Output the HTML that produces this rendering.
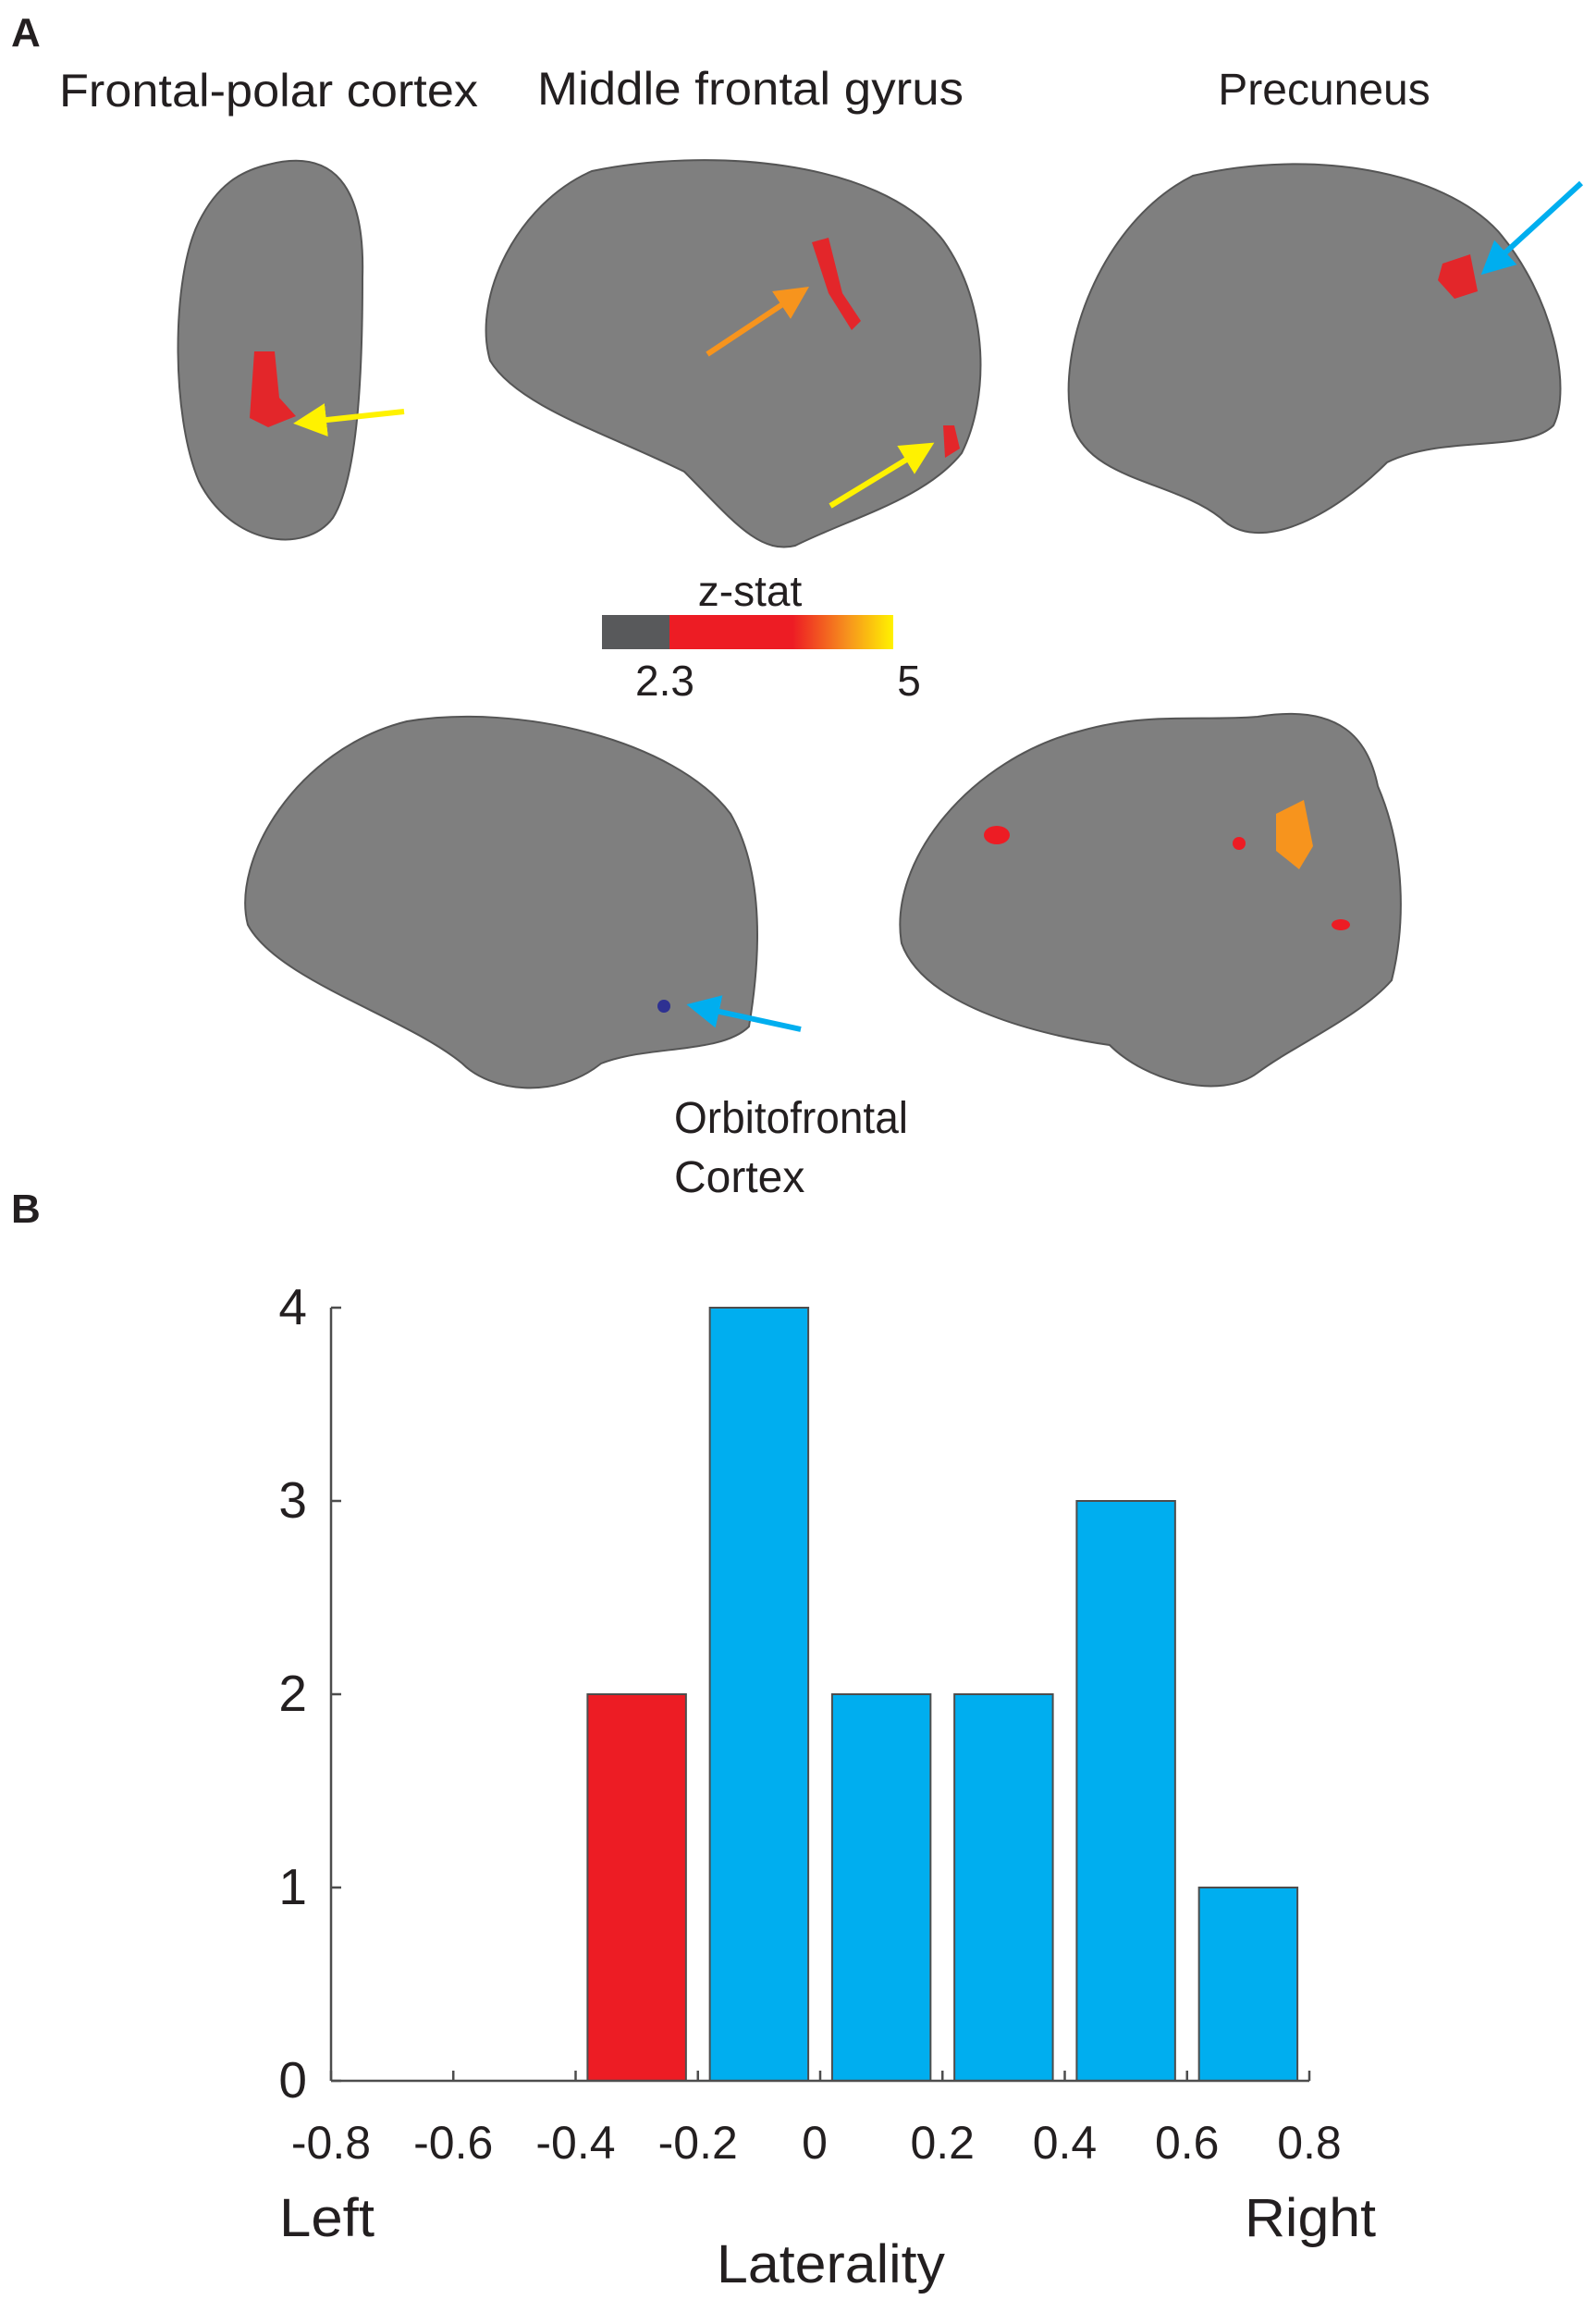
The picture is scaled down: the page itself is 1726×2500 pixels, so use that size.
<!DOCTYPE html>
<html><head><meta charset="utf-8"><style>
html,body{margin:0;padding:0;background:#fff}
svg{display:block}
.t{font-family:"Liberation Sans Narrow","Liberation Sans",sans-serif;fill:#231f20}
.a{font-family:"Liberation Sans",sans-serif;fill:#231f20}
</style></head><body>
<svg id="fig" width="1726" height="2500" viewBox="0 0 1726 2500" xmlns="http://www.w3.org/2000/svg">
<defs>
<linearGradient id="cb" x1="0" x2="1" y1="0" y2="0">
<stop offset="0" stop-color="#ed1c24"/><stop offset="0.55" stop-color="#ed1c24"/><stop offset="0.8" stop-color="#f7941d"/><stop offset="1" stop-color="#fff200"/></linearGradient>
<marker id="ay" markerWidth="6" markerHeight="6" refX="3" refY="3" orient="auto"><path d="M0,0 L6,3 L0,6 Z" fill="#fff200"/></marker>
<marker id="ao" markerWidth="6" markerHeight="6" refX="3" refY="3" orient="auto"><path d="M0,0 L6,3 L0,6 Z" fill="#f7941d"/></marker>
<marker id="ab" markerWidth="6" markerHeight="6" refX="3" refY="3" orient="auto"><path d="M0,0 L6,3 L0,6 Z" fill="#00aeef"/></marker>
</defs>
<text x="12" y="50" class="a" font-size="44" font-weight="bold">A</text>
<text x="64" y="115" class="t" font-size="50" textLength="453" lengthAdjust="spacingAndGlyphs">Frontal-polar cortex</text>
<text x="581" y="113" class="t" font-size="50" textLength="461" lengthAdjust="spacingAndGlyphs">Middle frontal gyrus</text>
<text x="1432" y="113" class="t" font-size="48" text-anchor="middle">Precuneus</text>

<g>
<path d="M290,178 C360,160 395,200 392,300 C392,420 385,520 360,560 C330,600 250,590 215,520 C185,450 185,300 215,240 C235,200 260,185 290,178 Z" fill="#7f7f7f" stroke="#555" stroke-width="2"/>
<path d="M275,380 l22,0 l5,50 l18,20 l-30,12 l-20,-10 Z" fill="#e3262a"/>
<line x1="437" y1="445" x2="335" y2="456" stroke="#fff200" stroke-width="6" marker-end="url(#ay)"/>
</g>
<g>
<path d="M640,185 C760,160 950,170 1020,260 C1070,330 1070,430 1040,490 C1000,540 920,560 860,590 C820,600 790,560 740,510 C660,470 560,440 530,390 C510,320 560,220 640,185 Z" fill="#7f7f7f" stroke="#555" stroke-width="2"/>
<path d="M878,262 l18,-5 l15,60 l20,30 l-10,10 l-25,-40 Z" fill="#e3262a"/>
<path d="M1020,460 l12,0 l6,25 l-16,10 Z" fill="#e3262a"/>
<line x1="765" y1="383" x2="860" y2="320" stroke="#f7941d" stroke-width="6" marker-end="url(#ao)"/>
<line x1="898" y1="547" x2="995" y2="488" stroke="#fff200" stroke-width="6" marker-end="url(#ay)"/>
</g>
<g>
<path d="M1290,190 C1420,160 1560,185 1620,250 C1680,320 1700,420 1680,460 C1650,490 1560,470 1500,500 C1440,560 1360,600 1320,560 C1270,520 1180,520 1160,460 C1140,380 1190,240 1290,190 Z" fill="#7f7f7f" stroke="#555" stroke-width="2"/>
<path d="M1560,285 l30,-10 l8,40 l-25,8 l-18,-20 Z" fill="#e3262a"/>
<line x1="1710" y1="198" x2="1615" y2="285" stroke="#00aeef" stroke-width="6" marker-end="url(#ab)"/>
</g>
<g>
<text x="811" y="655" class="t" font-size="46" text-anchor="middle">z-stat</text>
<rect x="651" y="665" width="73" height="37" fill="#58595b"/>
<rect x="724" y="665" width="242" height="37" fill="url(#cb)"/>
<text x="719" y="752" class="t" font-size="46" text-anchor="middle">2.3</text>
<text x="983" y="752" class="t" font-size="46" text-anchor="middle">5</text>
</g>
<g>
<path d="M440,780 C560,760 730,800 790,880 C830,950 820,1050 810,1110 C780,1140 700,1130 650,1150 C600,1190 530,1180 500,1150 C440,1100 300,1060 268,1000 C250,930 320,810 440,780 Z" fill="#7f7f7f" stroke="#555" stroke-width="2"/>
<circle cx="718" cy="1088" r="7" fill="#2e3192"/>
<line x1="866" y1="1113" x2="760" y2="1090" stroke="#00aeef" stroke-width="6" marker-end="url(#ab)"/>
</g>
<g>
<path d="M1360,775 C1450,760 1480,800 1490,850 C1520,920 1520,1000 1505,1060 C1470,1100 1400,1130 1360,1160 C1320,1190 1240,1170 1200,1130 C1130,1120 1000,1090 975,1020 C960,930 1050,820 1170,790 C1240,770 1300,780 1360,775 Z" fill="#7f7f7f" stroke="#555" stroke-width="2"/>
<path d="M1380,880 l30,-15 l10,50 l-15,25 l-25,-20 Z" fill="#f7941d"/>
<ellipse cx="1078" cy="903" rx="14" ry="10" fill="#ed1c24"/>
<ellipse cx="1340" cy="912" rx="7" ry="7" fill="#ed1c24"/>
<ellipse cx="1450" cy="1000" rx="10" ry="6" fill="#ed1c24"/>
</g>
<text x="729" y="1225" class="t" font-size="48" textLength="253" lengthAdjust="spacingAndGlyphs">Orbitofrontal</text>
<text x="729" y="1289" class="t" font-size="48">Cortex</text>

<text x="12" y="1322" class="a" font-size="44" font-weight="bold">B</text>
<g id="chart"></g>
<text x="302" y="2418" class="t" font-size="58" textLength="103" lengthAdjust="spacingAndGlyphs">Left</text>
<text x="1346" y="2418" class="t" font-size="58" textLength="142" lengthAdjust="spacingAndGlyphs">Right</text>
<text x="775" y="2468" class="t" font-size="58" textLength="247" lengthAdjust="spacingAndGlyphs">Laterality</text>
</svg>
<script>
const binCenters = [-0.3, -0.1, 0.1, 0.3, 0.5, 0.7];
const counts = [2, 4, 2, 2, 3, 1];
const barColors = ['#ed1c24', '#00aeef', '#00aeef', '#00aeef', '#00aeef', '#00aeef'];
const xTicks = [-0.8, -0.6, -0.4, -0.2, 0, 0.2, 0.4, 0.6, 0.8];
const xTickLabels = ['-0.8', '-0.6', '-0.4', '-0.2', '0', '0.2', '0.4', '0.6', '0.8'];
const yTicks = [0, 1, 2, 3, 4];

const NS = 'http://www.w3.org/2000/svg';
const g = document.getElementById('chart');
const X0 = 358, X1 = 1416, Y0 = 2250, Y4 = 1414;
const xs = v => X0 + (v + 0.8) / 1.6 * (X1 - X0);
const ys = v => Y0 - v / 4 * (Y0 - Y4);
function mk(tag, attrs) {
  const e = document.createElementNS(NS, tag);
  for (const k in attrs) e.setAttribute(k, attrs[k]);
  g.appendChild(e);
  return e;
}
const barW = 0.161;
binCenters.forEach((c, i) => {
  const r = mk('rect', {x: xs(c - barW / 2), y: ys(counts[i]), width: xs(c + barW / 2) - xs(c - barW / 2), height: Y0 - ys(counts[i]), fill: barColors[i], stroke: '#4d4d4d', 'stroke-width': 2});
  
  
});
const ya = mk('line', {x1: X0, y1: Y4, x2: X0, y2: Y0, stroke: '#4d4d4d', 'stroke-width': 2.5});


const xa = mk('line', {x1: X0, y1: Y0, x2: X1, y2: Y0, stroke: '#4d4d4d', 'stroke-width': 2.5});


yTicks.forEach(v => {
  mk('line', {x1: X0, y1: ys(v), x2: X0 + 11, y2: ys(v), stroke: '#4d4d4d', 'stroke-width': 2.5});
  const t = mk('text', {x: 332, y: ys(v) + 18, 'text-anchor': 'end', 'font-size': 55, class: 'a'});
  t.textContent = v;
  
  
});
xTicks.forEach((v, i) => {
  mk('line', {x1: xs(v), y1: Y0, x2: xs(v), y2: Y0 - 11, stroke: '#4d4d4d', 'stroke-width': 2.5});
  const t = mk('text', {x: xs(v) + (v === 0 ? -6 : 0), y: 2334, 'text-anchor': 'middle', 'font-size': 50, class: 'a'});
  t.textContent = xTickLabels[i];
  
  
});
</script>
</body></html>
